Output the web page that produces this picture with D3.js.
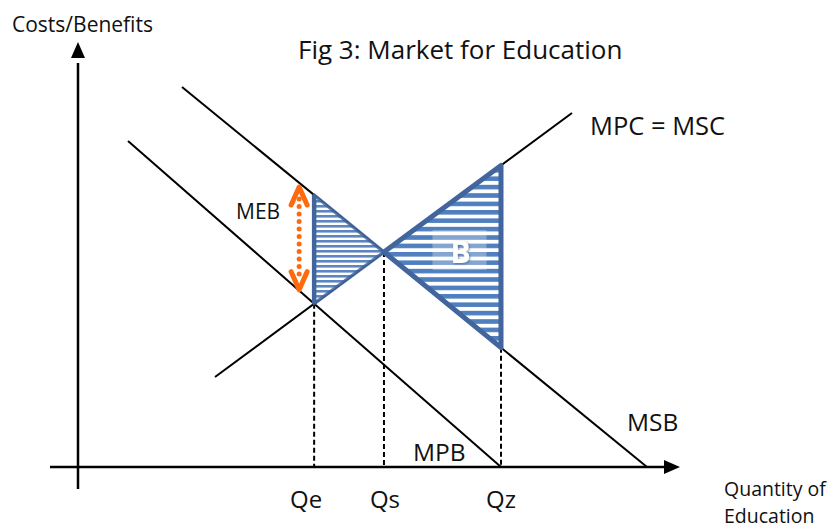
<!DOCTYPE html>
<html>
<head>
<meta charset="utf-8">
<script src="https://cdn.jsdelivr.net/npm/d3@7"></script>
<style>
  body { margin: 0; background: #fff; }
  svg { display: block; }
  text { font-family: "Open Sans", sans-serif; fill: #111; }
</style>
</head>
<body>
<div id="graph"></div>
<script>
// Curves as (quantity, price) end points
var curveNames = ["MPB", "MSB", "MPC = MSC"];
var curveStartQ = [5.0, 10.4, 13.7];
var curveStartP = [32.6, 38.0, 9.0];
var curveEndQ = [42.3, 56.9, 49.4];
var curveEndP = [0, 0, 35.4];

var quantityLabels = ["Qe", "Qs", "Qz"];
var axisTitleY = "Costs/Benefits";
var axisTitleX = ["Quantity of", "Education"];
var title = "Fig 3: Market for Education";

var width = 834, height = 529;

var x = d3.scaleLinear().domain([0, 60]).range([78, 678]);
var y = d3.scaleLinear().domain([0, 42]).range([467, 47]);

var svg = d3.select("#graph").append("svg")
    .attr("width", width)
    .attr("height", height)
    .attr("viewBox", `0 0 ${width} ${height}`);

// line helpers
function curve(i) {
    var slope = (curveEndP[i] - curveStartP[i]) / (curveEndQ[i] - curveStartQ[i]);
    return { slope: slope, at: function(q) { return curveStartP[i] + slope * (q - curveStartQ[i]); } };
}
function meet(a, b) {
    var ca = curve(a), cb = curve(b);
    // solve ca.at(q) = cb.at(q)
    return (cb.at(0) - ca.at(0)) / (ca.slope - cb.slope);
}
var mpb = curve(0), msb = curve(1), mpc = curve(2);
var Qe = meet(0, 2);
var Qs = meet(1, 2);
var Qz = curveStartQ[0] - curveStartP[0] / mpb.slope;
var qValues = [Qe, Qs, Qz];

var edge = "#41659c";

// stripe patterns
var defs = svg.append("defs");
var pat = defs.append("pattern").attr("id", "stripes")
    .attr("patternUnits", "userSpaceOnUse").attr("width", 10).attr("height", 8.4);
pat.append("rect").attr("width", 10).attr("height", 8.4).attr("fill", "#fff");
pat.append("rect").attr("width", 10).attr("height", 4.6).attr("fill", "#4f7fbe");

var pat2 = defs.append("pattern").attr("id", "fine")
    .attr("patternUnits", "userSpaceOnUse").attr("width", 10).attr("height", 5);
pat2.append("rect").attr("width", 10).attr("height", 5).attr("fill", "#fff");
pat2.append("rect").attr("width", 10).attr("height", 2.6).attr("fill", "#5d86c0");

var shadow = defs.append("filter").attr("id", "shade");
shadow.append("feDropShadow").attr("dx", 1).attr("dy", 1).attr("stdDeviation", 0.8)
    .attr("flood-color", "#2a4a7a").attr("flood-opacity", 0.6);

// curves
curveNames.forEach(function(name, i) {
    svg.append("line")
        .attr("x1", x(curveStartQ[i])).attr("y1", y(curveStartP[i]))
        .attr("x2", x(curveEndQ[i])).attr("y2", y(curveEndP[i]))
        .attr("stroke", "#000").attr("stroke-width", 2);
});

// dashed drop lines
var dropTops = [mpb.at(Qe), msb.at(Qs), msb.at(Qz)];
qValues.forEach(function(q, i) {
    svg.append("line")
        .attr("x1", x(q)).attr("x2", x(q))
        .attr("y1", y(dropTops[i])).attr("y2", y(0))
        .attr("stroke", "#000").attr("stroke-width", 2)
        .attr("stroke-dasharray", "5,3");
});

// triangles (drawn over the curves)
var leftTri = [[Qe, msb.at(Qe)], [Qs, msb.at(Qs)], [Qe, mpb.at(Qe)]];
var rightTri = [[Qs, msb.at(Qs)], [Qz, mpc.at(Qz)], [Qz, msb.at(Qz)]];

function poly(pts) {
    return "M" + pts.map(function(d) { return x(d[0]) + "," + y(d[1]); }).join("L") + "Z";
}

svg.append("path").attr("d", poly(leftTri))
    .attr("fill", "url(#fine)")
    .attr("stroke", edge).attr("stroke-opacity", 0.85)
    .attr("stroke-width", 3.5).attr("stroke-linejoin", "round");
svg.append("line")
    .attr("x1", x(Qe)).attr("x2", x(Qe))
    .attr("y1", y(msb.at(Qe))).attr("y2", y(mpb.at(Qe)))
    .attr("stroke", edge).attr("stroke-width", 4.5);

svg.append("path").attr("d", poly(rightTri))
    .attr("fill", "url(#stripes)")
    .attr("stroke", edge).attr("stroke-width", 5).attr("stroke-linejoin", "round");

// B label with lighter box
var bq = (Qs + Qz) / 2 + 1.7, bp = msb.at(Qs);
svg.append("rect")
    .attr("x", x(bq) - 27).attr("y", y(bp) - 22)
    .attr("width", 54).attr("height", 40)
    .attr("fill", "#fff").attr("opacity", 0.3);
svg.append("text")
    .attr("x", x(bq) + 1).attr("y", y(bp) + 11)
    .attr("text-anchor", "middle")
    .attr("filter", "url(#shade)")
    .style("font-size", "30px").style("font-weight", "bold")
    .style("fill", "#fff")
    .text("B");

// axes
svg.append("line").attr("x1", x(0)).attr("x2", x(0)).attr("y1", y(-2.2)).attr("y2", y(40.4))
    .attr("stroke", "#000").attr("stroke-width", 2.5);
svg.append("path")
    .attr("d", `M${x(0)},${y(42.5)}L${x(0) - 7},${y(40.9)}L${x(0) + 7},${y(40.9)}Z`)
    .attr("fill", "#000");
svg.append("line").attr("x1", x(-2.8)).attr("x2", x(58.8)).attr("y1", y(0)).attr("y2", y(0))
    .attr("stroke", "#000").attr("stroke-width", 2.5);
svg.append("path")
    .attr("d", `M${x(60.2)},${y(0)}L${x(58.6)},${y(0) - 7}L${x(58.6)},${y(0) + 7}Z`)
    .attr("fill", "#000");

// MEB arrow
var orange = "#ff6a0e";
var mebQ = Qe - 1.5, mebTop = msb.at(Qe) + 0.8, mebBot = mpb.at(Qe) + 1.4;
svg.append("line")
    .attr("x1", x(mebQ)).attr("x2", x(mebQ))
    .attr("y1", y(mebTop) + 12).attr("y2", y(mebBot) - 12)
    .attr("stroke", orange).attr("stroke-width", 5)
    .attr("stroke-linecap", "round").attr("stroke-dasharray", "0,7.5");
svg.append("path")
    .attr("d", `M${x(mebQ) - 8},${y(mebTop) + 18}L${x(mebQ)},${y(mebTop)}L${x(mebQ) + 8},${y(mebTop) + 18}`)
    .attr("fill", "none").attr("stroke", orange).attr("stroke-width", 5)
    .attr("stroke-linecap", "round").attr("stroke-linejoin", "round");
svg.append("path")
    .attr("d", `M${x(mebQ) - 8},${y(mebBot) - 18}L${x(mebQ)},${y(mebBot)}L${x(mebQ) + 8},${y(mebBot) - 18}`)
    .attr("fill", "none").attr("stroke", orange).attr("stroke-width", 5)
    .attr("stroke-linecap", "round").attr("stroke-linejoin", "round");

// texts
svg.append("text").attr("x", 298).attr("y", 59).style("font-size", "26px").text(title);
svg.append("text").attr("x", 12).attr("y", 32).style("font-size", "21px").text(axisTitleY);
axisTitleX.forEach(function(t, i) {
    svg.append("text").attr("x", 724).attr("y", 496 + i * 27).style("font-size", "19.5px").text(t);
});

var labelPos = [[413, 461], [627, 431], [590, 135]];
curveNames.forEach(function(name, i) {
    svg.append("text").attr("x", labelPos[i][0]).attr("y", labelPos[i][1])
        .style("font-size", i === 2 ? "25.5px" : "24.5px").text(name);
});

svg.append("text").attr("x", 236).attr("y", 219).style("font-size", "21px").text("MEB");

var qShift = [-8, 1, 0];
quantityLabels.forEach(function(t, i) {
    svg.append("text").attr("x", x(qValues[i]) + qShift[i]).attr("y", 508)
        .attr("text-anchor", "middle").style("font-size", "24px").text(t);
});
</script>
</body>
</html>
